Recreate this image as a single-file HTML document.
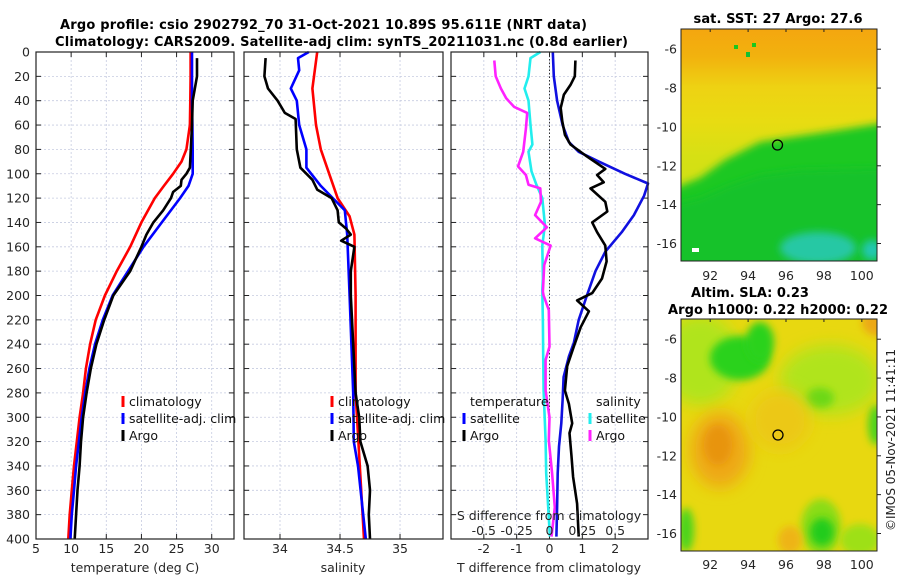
<!DOCTYPE html>
<html><head><meta charset="utf-8"><style>
html,body{margin:0;padding:0;background:#fff;}
svg{display:block;font-family:"DejaVu Sans","Liberation Sans",sans-serif;}
</style></head><body>
<svg id="root" width="900" height="580" viewBox="0 0 900 580" xmlns="http://www.w3.org/2000/svg">
<defs>
<filter id="blur3" x="-50%" y="-50%" width="200%" height="200%"><feGaussianBlur stdDeviation="4"/></filter>
<filter id="blur8" x="-50%" y="-50%" width="200%" height="200%"><feGaussianBlur stdDeviation="8"/></filter>
<clipPath id="clipTop"><rect x="681" y="29" width="196" height="232"/></clipPath>
<clipPath id="clipBot"><rect x="681" y="319" width="196" height="232"/></clipPath>
<linearGradient id="sstGrad" x1="0" y1="0" x2="0" y2="1">
<stop offset="0" stop-color="#f4a60f"/><stop offset="0.12" stop-color="#f2b20e"/>
<stop offset="0.25" stop-color="#eed213"/><stop offset="0.4" stop-color="#e8dc12"/>
<stop offset="0.55" stop-color="#d6e014"/><stop offset="1" stop-color="#c0e018"/>
</linearGradient>
</defs>
<text x="60" y="29" font-size="13" font-weight="bold" fill="#000" textLength="527">Argo profile: csio 2902792_70 31-Oct-2021 10.89S 95.611E (NRT data)</text>
<text x="55" y="46" font-size="13" font-weight="bold" fill="#000" textLength="573">Climatology: CARS2009. Satellite-adj clim: synTS_20211031.nc (0.8d earlier)</text>

<g clip-path="url(#clipTop)">
<rect x="681" y="29" width="196" height="232" fill="url(#sstGrad)"/>
<path d="M670 190 L700 178 L725 160 L760 142 L800 136 L840 130 L890 122 L890 270 L670 270 Z" fill="#1fc824" filter="url(#blur3)"/>
<path d="M670 205 L700 198 L730 185 L760 175 L800 170 L890 168 L890 270 L670 270 Z" fill="#16c22a" filter="url(#blur3)"/>
<ellipse cx="818" cy="248" rx="38" ry="16" fill="#26c8a4" filter="url(#blur3)"/>
<ellipse cx="872" cy="250" rx="10" ry="10" fill="#22c8b0" filter="url(#blur3)"/>
<rect x="692" y="248" width="7" height="4" fill="#ffffff"/>
<rect x="734" y="45" width="4" height="4" fill="#19c81e"/><rect x="752" y="43" width="4" height="4" fill="#19c81e"/><rect x="746" y="52" width="4" height="5" fill="#12c032"/>
</g>
<rect x="681" y="29" width="196" height="232" fill="none" stroke="#222" stroke-width="1"/>
<circle cx="777.5" cy="145" r="5" fill="none" stroke="#000" stroke-width="1.3"/>
<text x="778" y="23" font-size="13" font-weight="bold" text-anchor="middle" textLength="169">sat. SST: 27 Argo: 27.6</text>

<g clip-path="url(#clipBot)">
<rect x="681" y="319" width="196" height="232" fill="#e8d810"/>
<ellipse cx="700" cy="360" rx="40" ry="45" fill="#b0e41c" filter="url(#blur8)"/>
<ellipse cx="830" cy="380" rx="50" ry="35" fill="#b0e41c" filter="url(#blur8)"/>
<ellipse cx="740" cy="358" rx="30" ry="22" fill="#2cd21c" filter="url(#blur3)"/>
<ellipse cx="760" cy="342" rx="14" ry="20" fill="#2cd21c" filter="url(#blur3)"/>
<ellipse cx="820" cy="398" rx="14" ry="10" fill="#6cd818" filter="url(#blur3)"/>
<ellipse cx="720" cy="450" rx="30" ry="38" fill="#eea812" filter="url(#blur8)"/>
<ellipse cx="718" cy="445" rx="14" ry="20" fill="#e8940f" filter="url(#blur3)"/>
<ellipse cx="780" cy="420" rx="30" ry="30" fill="#ecc812" filter="url(#blur8)"/>
<ellipse cx="878" cy="322" rx="16" ry="14" fill="#eca812" filter="url(#blur3)"/>
<ellipse cx="876" cy="425" rx="8" ry="20" fill="#50d41a" filter="url(#blur3)"/>
<ellipse cx="821" cy="527" rx="20" ry="28" fill="#8adc18" filter="url(#blur3)"/>
<ellipse cx="822" cy="532" rx="12" ry="14" fill="#22cc1c" filter="url(#blur3)"/>
<ellipse cx="686" cy="530" rx="8" ry="22" fill="#4cd41a" filter="url(#blur3)"/>
<ellipse cx="860" cy="540" rx="20" ry="16" fill="#9ee018" filter="url(#blur3)"/>
<ellipse cx="790" cy="540" rx="12" ry="14" fill="#eeb412" filter="url(#blur3)"/>
</g>
<rect x="681" y="319" width="196" height="232" fill="none" stroke="#222" stroke-width="1"/>
<circle cx="778" cy="435" r="5" fill="none" stroke="#000" stroke-width="1.3"/>
<text x="750" y="297" font-size="13" font-weight="bold" text-anchor="middle">Altim. SLA: 0.23</text>
<text x="778" y="314" font-size="13" font-weight="bold" text-anchor="middle" textLength="220">Argo h1000: 0.22 h2000: 0.22</text>
<text transform="translate(895,440) rotate(-90)" font-size="12" text-anchor="middle" fill="#222">©IMOS 05-Nov-2021 11:41:11</text>
<g id="plots"></g>
</svg>
<script>
const climTDepth = [0,20,40,60,80,90,100,110,120,140,160,180,200,220,240,260,280,300,320,340,360,380,400];
const climT = [27.0,27.0,26.95,26.9,26.4,25.7,24.5,23.2,21.9,20.0,18.4,16.5,14.8,13.5,12.7,12.1,11.7,11.2,10.8,10.4,10.1,9.8,9.6];
const satTDepth = [0,20,40,60,80,100,110,120,140,160,180,200,220,240,260,280,300,320,340,360,380,400];
const satT = [27.2,27.2,27.2,27.25,27.3,27.3,26.7,25.5,22.9,20.3,18.1,15.9,14.5,13.4,12.6,12.0,11.5,11.1,10.7,10.4,10.1,9.9];
const argoTDepth = [5,20,40,60,95,100,105,110,115,120,130,140,150,160,180,200,220,240,260,280,300,320,340,360,380,400];
const argoT = [27.9,27.9,27.3,27.2,26.9,26.4,25.7,25.6,24.5,24.2,23.1,21.7,20.7,20.0,18.4,16.0,14.7,13.6,12.8,12.2,11.7,11.4,11.2,10.9,10.7,10.5];

const climSDepth = [0,30,60,80,100,120,135,150,200,280,400];
const climS = [34.31,34.27,34.30,34.34,34.41,34.48,34.58,34.62,34.63,34.63,34.70];
const satSDepth = [0,5,15,30,40,60,80,95,110,120,130,150,200,280,320,340,400];
const satS = [34.24,34.15,34.16,34.09,34.14,34.16,34.22,34.22,34.34,34.44,34.54,34.56,34.58,34.61,34.615,34.65,34.715];
const argoSDepth = [5,20,30,40,50,55,80,95,105,113,120,130,140,145,150,155,160,180,200,240,280,300,320,340,360,380,400];
const argoS = [33.88,33.87,33.90,33.98,34.04,34.13,34.14,34.17,34.27,34.31,34.43,34.48,34.49,34.55,34.59,34.51,34.62,34.59,34.59,34.61,34.63,34.66,34.67,34.73,34.75,34.74,34.75];

const satDTDepth = [0,20,40,60,74,82,90,100,108,118,134,148,164,180,200,220,239,250,267,286,305,324,346,374,398];
const satDT = [0.1,0.13,0.23,0.4,0.59,0.89,1.5,2.3,3.0,2.88,2.57,2.2,1.7,1.4,1.14,0.89,0.74,0.59,0.43,0.4,0.36,0.29,0.25,0.23,0.21];
const argoDTDepth = [7,20,27,35,46,57,68,76,85,96,101,107,112,123,131,140,148,159,172,186,198,204,213,226,242,258,278,289,305,313,332,349,371,398];
const argoDT = [0.79,0.77,0.64,0.44,0.34,0.39,0.47,0.64,1.1,1.7,1.45,1.65,1.25,1.7,1.76,1.3,1.45,1.7,1.74,1.6,1.3,0.84,1.2,0.95,0.74,0.54,0.47,0.59,0.69,0.61,0.67,0.72,0.84,0.89];
const satDSDepth = [0,5,20,30,40,60,76,82,98,109,120,142,159,186,195,223,250,278,319,346,374,398];
const satDS = [-0.069,-0.145,-0.16,-0.19,-0.16,-0.145,-0.13,-0.16,-0.137,-0.10,-0.055,-0.035,-0.055,-0.05,-0.055,-0.05,-0.048,-0.045,-0.03,-0.025,-0.01,0.003];
const argoDSDepth = [7,20,30,38,45,50,63,82,94,101,109,112,123,134,144,153,159,175,197,200,212,242,253,278,300,319,346,374,398];
const argoDS = [-0.42,-0.41,-0.37,-0.33,-0.27,-0.17,-0.18,-0.2,-0.24,-0.18,-0.16,-0.07,-0.065,-0.11,-0.02,-0.11,0.008,-0.04,-0.05,-0.045,-0.005,0,-0.03,-0.03,0,-0.005,0.02,0.04,0.015];

const depthTicks = [0,20,40,60,80,100,120,140,160,180,200,220,240,260,280,300,320,340,360,380,400];
const tempTicks = [5,10,15,20,25,30];
const salTicks = [34,34.5,35];
const dTTicks = [-2,-1,0,1,2];
const dTTickLabels = ["-2","-1","0","1","2"];
const dSTicks = [-0.5,-0.25,0,0.25,0.5];
const dSTickLabels = ["-0.5","-0.25","0","0.25","0.5"];
const latTicks = [-6,-8,-10,-12,-14,-16];
const lonTicks = [92,94,96,98,100];

const NS = "http://www.w3.org/2000/svg";
const root = document.getElementById('plots');
function mk(tag, attrs, parent){ const e=document.createElementNS(NS,tag); for(const k in attrs) e.setAttribute(k,attrs[k]); (parent||root).appendChild(e); return e; }

const Y0 = 52, Y1 = 539;
const FS = 12.5;
function yD(d){ return Y0 + d*(Y1-Y0)/400; }
function makeX(x0,x1,v0,v1){ return v => x0 + (v-v0)*(x1-x0)/(v1-v0); }

const panels = [
  {name:'temperature-panel', x0:36, x1:234},
  {name:'salinity-panel', x0:244, x1:443},
  {name:'difference-panel', x0:451, x1:648}
];
const xT = makeX(36,234,5,33.17);
const xS = makeX(244,443,33.7,35.358);
const xDT = makeX(451,648,-3,3);
const xDS = makeX(451,648,-0.75,0.75);

function panelFrame(p, xt, ticks, labels, yLabels){
  const g = mk('g',{});
  
  
  mk('rect',{x:p.x0,y:Y0,width:p.x1-p.x0,height:Y1-Y0,fill:'#fff'},g);
  depthTicks.forEach(d=>{
    const y=yD(d);
    const gl=mk('line',{x1:p.x0,x2:p.x1,y1:y,y2:y,stroke:'#c6cbe0','stroke-width':0.8,'stroke-dasharray':'2,2'},g);
    
    
    mk('line',{x1:p.x0,x2:p.x0+5,y1:y,y2:y,stroke:'#222','stroke-width':1},g);
    mk('line',{x1:p.x1-5,x2:p.x1,y1:y,y2:y,stroke:'#222','stroke-width':1},g);
    if(yLabels){
      const t=mk('text',{x:p.x0-6,y:y+4.5,'font-size':FS,'text-anchor':'end',fill:'#262626'},g);
      
      
      t.textContent=d;
    }
  });
  ticks.forEach((v,i)=>{
    const x=xt(v);
    mk('line',{x1:x,x2:x,y1:Y0,y2:Y1,stroke:'#c6cbe0','stroke-width':0.8,'stroke-dasharray':'2,2'},g);
    mk('line',{x1:x,x2:x,y1:Y1-5,y2:Y1,stroke:'#222','stroke-width':1},g);
    mk('line',{x1:x,x2:x,y1:Y0,y2:Y0+5,stroke:'#222','stroke-width':1},g);
    const t=mk('text',{x:x,y:553,'font-size':FS,'text-anchor':'middle',fill:'#262626'},g);
    
    
    t.textContent=labels[i];
  });
  return g;
}
function frameBorder(p,g){ mk('rect',{x:p.x0,y:Y0,width:p.x1-p.x0,height:Y1-Y0,fill:'none',stroke:'#222','stroke-width':1.2},g); }
function line(xs,ds,xf,color,name,g){
  const pts = xs.map((v,i)=>xf(v).toFixed(1)+','+yD(ds[i]).toFixed(1)).join(' ');
  const pl = mk('polyline',{points:pts,fill:'none',stroke:color,'stroke-width':2.6,'stroke-linejoin':'round'},g);
  
  
}
function legendEntry(x,y,color,label,g){
  const lg = mk('g',{},g);
  
  
  if(color) mk('rect',{x:x-1.5,y:y-10,width:3,height:11,fill:color},lg);
  const t=mk('text',{x:x+6,y:y,'font-size':FS,fill:'#111'},lg);
  t.textContent=label;
}
function axisTitle(x,y,txt,name){
  const t=mk('text',{x:x,y:y,'font-size':FS,'text-anchor':'middle',fill:'#262626'});
  
  
  t.textContent=txt;
}

let g1 = panelFrame(panels[0], xT, tempTicks, tempTicks.map(String), true);
line(climT, climTDepth, xT, '#ff0000', 'climatology-temperature-line', g1);
line(satT, satTDepth, xT, '#0000ff', 'satellite-temperature-line', g1);
line(argoT, argoTDepth, xT, '#000000', 'argo-temperature-line', g1);
frameBorder(panels[0],g1);
legendEntry(123,406,'#ff0000','climatology',g1);
legendEntry(123,423,'#0000ff','satellite-adj. clim',g1);
legendEntry(123,440,'#000000','Argo',g1);
axisTitle(135,572,'temperature (deg C)','x-axis-title-temperature');

let g2 = panelFrame(panels[1], xS, salTicks, salTicks.map(String), false);
line(climS, climSDepth, xS, '#ff0000', 'climatology-salinity-line', g2);
line(satS, satSDepth, xS, '#0000ff', 'satellite-salinity-line', g2);
line(argoS, argoSDepth, xS, '#000000', 'argo-salinity-line', g2);
frameBorder(panels[1],g2);
legendEntry(332,406,'#ff0000','climatology',g2);
legendEntry(332,423,'#0000ff','satellite-adj. clim',g2);
legendEntry(332,440,'#000000','Argo',g2);
axisTitle(343,572,'salinity','x-axis-title-salinity');

let g3 = panelFrame(panels[2], xDT, dTTicks, dTTickLabels, false);
const zl = mk('line',{x1:xDT(0),x2:xDT(0),y1:Y0,y2:Y1,stroke:'#333','stroke-width':1,'stroke-dasharray':'1.5,2'},g3);


line(satDS, satDSDepth, xDS, '#22eeee', 'satellite-salinity-difference-line', g3);
line(argoDS, argoDSDepth, xDS, '#ff22ff', 'argo-salinity-difference-line', g3);
line(satDT, satDTDepth, xDT, '#1010e0', 'satellite-temperature-difference-line', g3);
line(argoDT, argoDTDepth, xDT, '#000000', 'argo-temperature-difference-line', g3);
frameBorder(panels[2],g3);
legendEntry(464,406,null,'temperature',g3);
legendEntry(464,423,'#0000ff','satellite',g3);
legendEntry(464,440,'#000000','Argo',g3);
legendEntry(590,406,null,'salinity',g3);
legendEntry(590,423,'#22eeee','satellite',g3);
legendEntry(590,440,'#ff22ff','Argo',g3);
axisTitle(549,520,'S difference from climatology','s-difference-axis-title');
dSTicks.forEach((v,i)=>{
  const t=mk('text',{x:xDS(v),y:535,'font-size':FS,'text-anchor':'middle',fill:'#262626'},g3);
  
  
  t.textContent=dSTickLabels[i];
});
axisTitle(549,572,'T difference from climatology','t-difference-axis-title');

function mapAxes(top, bottom, labelY){
  const lat = v => top + (-4.96 - v)*(bottom-top)/11.94;
  const lon = v => 681 + (v-90.46)*196/10.34;
  latTicks.forEach(v=>{
    const y=lat(v);
    mk('line',{x1:877,x2:881,y1:y,y2:y,stroke:'#222'});
    const t=mk('text',{x:677,y:y+4.5,'font-size':FS,'text-anchor':'end',fill:'#262626'});
    
    
    t.textContent=v;
  });
  lonTicks.forEach(v=>{
    const x=lon(v);
    mk('line',{x1:x,x2:x,y1:top,y2:top+3,stroke:'#222'});
    const t=mk('text',{x:x,y:labelY,'font-size':FS,'text-anchor':'middle',fill:'#262626'});
    
    
    t.textContent=v;
  });
}
mapAxes(29,261,280);
mapAxes(319,551,569);
</script>
</body></html>
